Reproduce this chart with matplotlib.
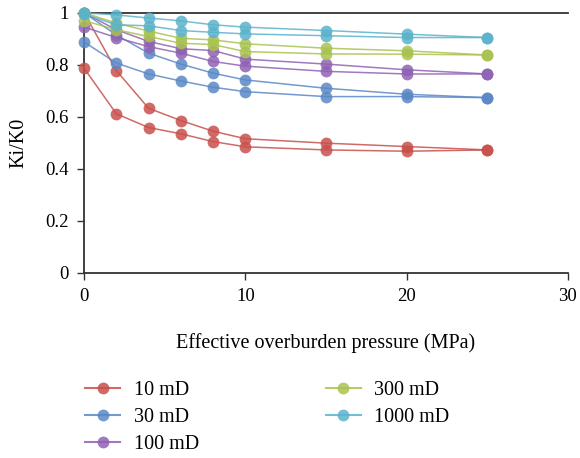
import numpy as np
import matplotlib.pyplot as plt
from matplotlib.lines import Line2D

plt.rcParams['font.family'] = ['Liberation Serif', 'DejaVu Serif']

# pressure steps (MPa), loading then unloading
pressure = [0, 2, 4, 6, 8, 10, 15, 20, 25]

labels = ['10 mD', '30 mD', '100 mD', '300 mD', '1000 mD']
colors = ['#C8504B', '#5A88C6', '#8F62B4', '#A9C24F', '#5BB3CB']

# loading curves (Ki/K0)
load_10 = [1.0, 0.778, 0.633, 0.586, 0.545, 0.516, 0.499, 0.486, 0.473]
load_30 = [1.0, 0.915, 0.845, 0.803, 0.768, 0.742, 0.710, 0.687, 0.674]
load_100 = [1.0, 0.935, 0.890, 0.862, 0.855, 0.822, 0.803, 0.781, 0.765]
load_300 = [1.0, 0.960, 0.930, 0.902, 0.896, 0.881, 0.864, 0.854, 0.838]
load_1000 = [1.0, 0.992, 0.980, 0.969, 0.954, 0.945, 0.932, 0.918, 0.905]

# unloading curves (Ki/K0)
unload_10 = [0.787, 0.612, 0.559, 0.535, 0.505, 0.485, 0.473, 0.468, 0.473]
unload_30 = [0.888, 0.807, 0.765, 0.738, 0.714, 0.697, 0.678, 0.678, 0.674]
unload_100 = [0.945, 0.905, 0.870, 0.845, 0.813, 0.795, 0.775, 0.765, 0.765]
unload_300 = [0.970, 0.935, 0.909, 0.883, 0.878, 0.851, 0.842, 0.841, 0.838]
unload_1000 = [0.995, 0.954, 0.950, 0.932, 0.925, 0.919, 0.912, 0.905, 0.905]

loads = [load_10, load_30, load_100, load_300, load_1000]
unloads = [unload_10, unload_30, unload_100, unload_300, unload_1000]

fig = plt.figure(figsize=(5.8, 4.58), dpi=100)
ax = fig.add_axes([0.145, 0.404, 0.834, 0.568])

for lo, un, c in zip(loads, unloads, colors):
    for ys in (lo, un):
        ax.plot(pressure, ys, color=c, lw=1.1, alpha=0.85,
                marker='o', ms=8.5, mfc=c, mec=c, mew=0, zorder=3,
                clip_on=False)

ax.set_xlim(0, 30)
ax.set_ylim(0, 1)
ax.set_xticks([0, 10, 20, 30])
ax.set_yticks([0, 0.2, 0.4, 0.6, 0.8, 1.0])
ax.set_yticklabels(['0', '0.2', '0.4', '0.6', '0.8', '1'])
ax.tick_params(labelsize=13.5, length=5, width=1, color='#333333', pad=6)
ax.spines['right'].set_visible(False)
for s in ['top', 'left', 'bottom']:
    ax.spines[s].set_linewidth(1.3)
    ax.spines[s].set_color('#333333')

ax.set_xlabel('Effective overburden pressure (MPa)', fontsize=14.5, labelpad=20)
ax.set_ylabel('Ki/K0', fontsize=14.5, labelpad=12)

handles = [Line2D([0], [0], color=c, lw=1.5, alpha=0.85, marker='o', ms=8.5,
                  mfc=c, mec=c, mew=0) for c in colors]
fig.legend(handles, labels, loc='upper left', bbox_to_anchor=(0.133, 0.185),
           ncol=2, frameon=False, fontsize=14.5, columnspacing=6.3,
           handlelength=1.75, handletextpad=0.65, labelspacing=0.38,
           borderaxespad=0, bbox_transform=fig.transFigure)

fig.savefig('out.png', dpi=100)
